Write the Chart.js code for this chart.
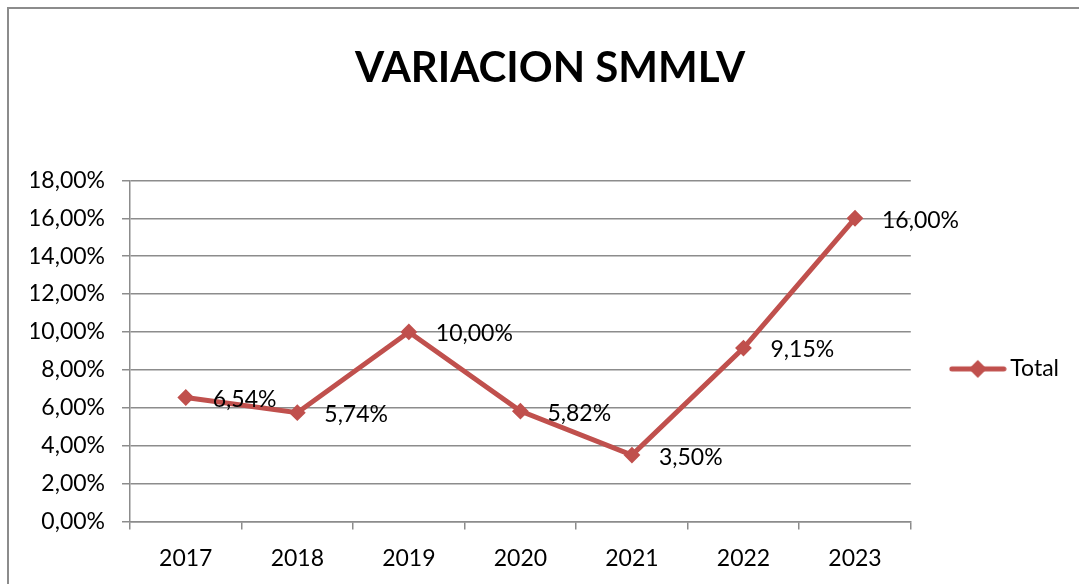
<!DOCTYPE html>
<html>
<head>
<meta charset="utf-8">
<script src="https://cdn.jsdelivr.net/npm/chart.js@4/dist/chart.umd.min.js"></script>
<style>
  html, body { margin: 0; padding: 0; background: #fff; overflow: hidden; }
  canvas { display: block; }
</style>
</head>
<body>
<canvas id="smmlvChart" width="1079" height="584"></canvas>
<script>
const years = ["2017", "2018", "2019", "2020", "2021", "2022", "2023"];
const totalValues = [6.54, 5.74, 10.00, 5.82, 3.50, 9.15, 16.00];
const yTicks = [0, 2, 4, 6, 8, 10, 12, 14, 16, 18];

const RED = "#C0504D";
const GRID = "#8c8c8c";
const FONT = "Lato, 'Liberation Sans', sans-serif";

const pct = v => v.toFixed(2).replace(".", ",") + "%";

// legend icon: line with a diamond in the middle
const legendIcon = document.createElement("canvas");
legendIcon.width = 58;
legendIcon.height = 20;
(() => {
  const c = legendIcon.getContext("2d");
  c.strokeStyle = RED;
  c.lineWidth = 5;
  c.lineCap = "round";
  c.beginPath();
  c.moveTo(3, 10);
  c.lineTo(55, 10);
  c.stroke();
  c.fillStyle = RED;
  c.beginPath();
  c.moveTo(29, 1);
  c.lineTo(38, 10);
  c.lineTo(29, 19);
  c.lineTo(20, 10);
  c.closePath();
  c.fill();
})();

// outer chart frame (only left and top edges are inside the picture)
const chartFrame = {
  id: "chartFrame",
  beforeDraw(chart) {
    const ctx = chart.ctx;
    ctx.save();
    ctx.strokeStyle = GRID;
    ctx.lineWidth = 2;
    ctx.beginPath();
    ctx.moveTo(8, chart.height + 5);
    ctx.lineTo(8, 8);
    ctx.lineTo(chart.width + 5, 8);
    ctx.stroke();
    ctx.restore();
  }
};

// value labels to the right of each point
const pointLabels = {
  id: "pointLabels",
  afterDatasetsDraw(chart) {
    const ctx = chart.ctx;
    const meta = chart.getDatasetMeta(0);
    ctx.save();
    ctx.font = "23px " + FONT;
    ctx.fillStyle = "#000";
    ctx.textAlign = "left";
    ctx.textBaseline = "middle";
    meta.data.forEach((pt, i) => {
      ctx.fillText(pct(totalValues[i]), pt.x + 27, pt.y + 2);
    });
    ctx.restore();
  }
};

new Chart(document.getElementById("smmlvChart").getContext("2d"), {
  type: "line",
  data: {
    labels: years,
    datasets: [{
      label: "Total",
      data: totalValues,
      borderColor: RED,
      backgroundColor: RED,
      borderWidth: 5,
      pointStyle: "rectRot",
      pointRadius: 7,
      pointBorderWidth: 2,
      pointBackgroundColor: RED,
      pointBorderColor: RED,
      tension: 0
    }]
  },
  options: {
    responsive: false,
    animation: false,
    layout: { padding: { top: 0, left: 31, right: 10, bottom: -1 } },
    plugins: {
      title: {
        display: true,
        text: "VARIACION SMMLV",
        color: "#000",
        font: { family: FONT, size: 42, weight: "bold", lineHeight: 1.2 },
        padding: { top: 43, bottom: 87 }
      },
      legend: {
        position: "right",
        fullSize: false,
        title: { display: true, text: " ", font: { size: 20, lineHeight: 1 }, padding: 8 },
        labels: {
          usePointStyle: true,
          pointStyleWidth: 42,
          padding: 46,
          color: "#000",
          font: { family: FONT, size: 23 },
          generateLabels(chart) {
            const items = Chart.defaults.plugins.legend.labels.generateLabels(chart);
            items.forEach(it => { it.pointStyle = legendIcon; });
            return items;
          }
        }
      },
      tooltip: { enabled: false }
    },
    scales: {
      x: {
        offset: true,
        afterFit: scale => { scale.height -= 2; },
        grid: { display: true, drawOnChartArea: false, drawTicks: true, tickLength: 8, offset: true, color: GRID, lineWidth: 1.5 },
        border: { display: true, color: GRID, width: 1.5 },
        ticks: { color: "#000", padding: 15, font: { family: FONT, size: 23 }, maxRotation: 0 }
      },
      y: {
        min: 0,
        max: 18,
        afterFit: scale => { scale.width = 99; },
        afterBuildTicks: scale => { scale.ticks = yTicks.map(v => ({ value: v })); },
        grid: { color: GRID, lineWidth: 1.5, tickLength: 8 },
        border: { display: true, color: GRID, width: 1.5 },
        ticks: { color: "#000", padding: 17, font: { family: FONT, size: 23 }, callback: v => pct(v) }
      }
    }
  },
  plugins: [chartFrame, pointLabels]
});
</script>
</body>
</html>
